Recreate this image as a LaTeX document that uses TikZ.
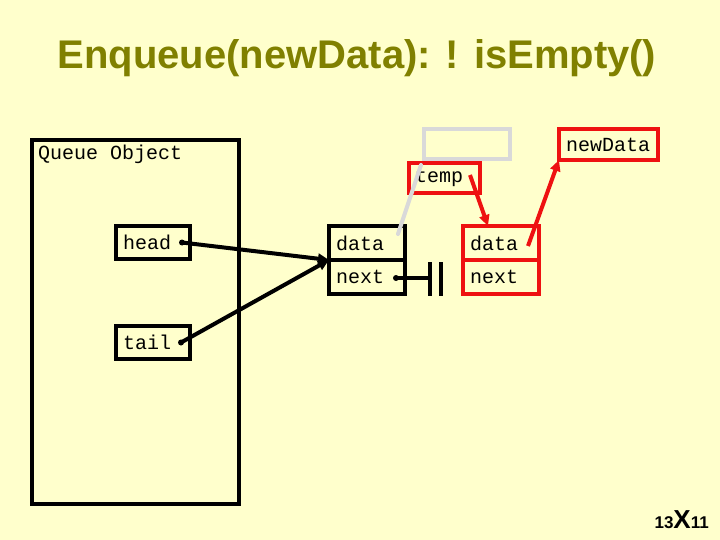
\documentclass[tikz,border=0pt]{standalone}
\usepackage{fontspec}
\setmainfont{Liberation Sans}
\setmonofont{Liberation Mono}
\usetikzlibrary{arrows.meta, positioning, calc}
\definecolor{slidebg}{HTML}{FFFFCC}
\definecolor{titleolive}{HTML}{808000}
\definecolor{ghost}{HTML}{D9D9D9}
\definecolor{hotred}{HTML}{EE1111}
\tikzset{
  mono/.style={font=\ttfamily\fontsize{20}{22}\selectfont},
  cell/.style={draw, line width=4pt, anchor=north west, outer sep=0pt, mono, align=left,
    inner xsep=7pt, inner ysep=0pt, text width=#1, minimum height=34pt},
  cell/.default=62pt,
  ptr/.style={line width=4pt, -{Triangle[length=11pt,width=10pt]}},
}
\begin{document}
\begin{tikzpicture}[x=1pt, y=-1pt]
  \useasboundingbox[fill=slidebg] (0,0) rectangle (720,540);
  \node[font=\fontsize{40}{48}\selectfont\bfseries, text=titleolive] (title) at (357,58) {Enqueue(newData): ! isEmpty()};
  % queue object
  \node[draw, line width=4pt, anchor=north west, outer sep=0pt, minimum width=207pt, minimum height=364pt] (queue) at (32,140) {};
  \node[mono, anchor=west, inner sep=0pt] (qlabel) at (38,154) {Queue Object};
  \node[cell=60pt, minimum height=33pt] (head) at (116,226) {head};
  \node[cell=60pt, minimum height=33pt] (tail) at (116,326) {tail};
  % list nodes
  \node[cell] (data1) at (329,226) {data};
  \node[cell] (next1) at (329,260) {next};
  \node[cell, draw=hotred] (data2) at (463,226) {data};
  \node[cell, draw=hotred] (next2) at (463,260) {next};
  % old temp
  \draw[ghost, line width=4pt] (424,129) rectangle (510,159);
  \node[cell=59pt, draw=hotred, minimum height=30pt, inner xsep=6pt] (temp) at (409,163) {temp};
  \node[cell=85pt, draw=hotred, minimum height=31pt] (newdata) at (559,129) {newData};
  \draw[ghost, line width=4pt, line cap=round] (temp.north west) ++(12,2) -- ($(data1.east)+(-7,-9)$);
  % pointers
  \coordinate (headptr) at ($(head.east)+(-8,0)$);
  \coordinate (tailptr) at ($(tail.east)+(-9,0)$);
  \coordinate (nextptr) at ($(next1.east)+(-9,1)$);
  \coordinate (gnd) at (430,278);
  \fill (headptr) circle (3pt);
  \fill (tailptr) circle (3pt);
  \fill (nextptr) circle (3pt);
  \draw[ptr] (headptr) -- (data1.south west);
  \draw[ptr] (tailptr) -- (data1.south west);
  \draw[line width=4pt] (nextptr) -- (gnd);
  \draw[line width=4pt] (gnd) ++(0,-16) -- ++(0,34);
  \draw[line width=4pt] ($(gnd)+(11,-16)$) -- ++(0,34);
  \draw[ptr, hotred] ($(temp.east)+(-10,-3)$) -- ($(data2.north west)+(25,0)$);
  \draw[ptr, hotred] ($(data2.east)+(-11,3)$) -- (newdata.south west);
  % slide number
  \node[anchor=base east, inner sep=0pt, font=\bfseries] (pagenum) at (709,528) {\fontsize{17}{17}\selectfont 13\fontsize{26}{26}\selectfont X\fontsize{17}{17}\selectfont 11};
\end{tikzpicture}
\end{document}
